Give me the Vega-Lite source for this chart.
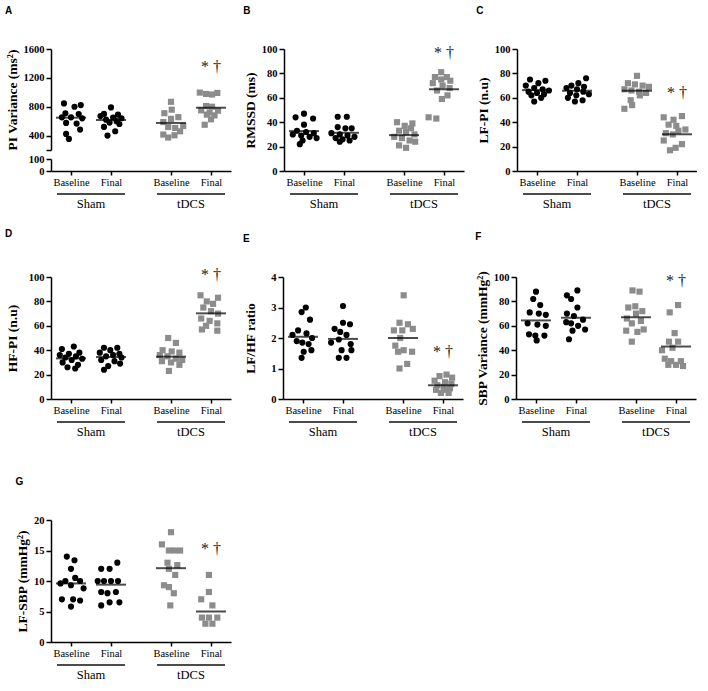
{
  "$schema": "https://vega.github.io/schema/vega-lite/v6.json",
  "background": "white",
  "padding": {"left": 5, "top": 6, "right": 0, "bottom": 0},
  "datasets": {
    "grp": [{"cat": "Sham"}, {"cat": "tDCS"}],
    "means": [
      {"p":"A","cat":"SB","v":648},{"p":"A","cat":"SF","v":616},{"p":"A","cat":"TB","v":575},{"p":"A","cat":"TF","v":786},
      {"p":"B","cat":"SB","v":32.7},{"p":"B","cat":"SF","v":31.3},{"p":"B","cat":"TB","v":29.4},{"p":"B","cat":"TF","v":67},
      {"p":"C","cat":"SB","v":66.3},{"p":"C","cat":"SF","v":65.8},{"p":"C","cat":"TB","v":65.8},{"p":"C","cat":"TF","v":30.1},
      {"p":"D","cat":"SB","v":33.3},{"p":"D","cat":"SF","v":34.4},{"p":"D","cat":"TB","v":34.7},{"p":"D","cat":"TF","v":70.2},
      {"p":"E","cat":"SB","v":2.04},{"p":"E","cat":"SF","v":1.97},{"p":"E","cat":"TB","v":2.0},{"p":"E","cat":"TF","v":0.45},
      {"p":"F","cat":"SB","v":64.4},{"p":"F","cat":"SF","v":66.6},{"p":"F","cat":"TB","v":67},{"p":"F","cat":"TF","v":43},
      {"p":"G","cat":"SB","v":9.6},{"p":"G","cat":"SF","v":9.4},{"p":"G","cat":"TB","v":12.1},{"p":"G","cat":"TF","v":5.0}
    ],
    "ann": [
      {"p":"A","cat":"TF","v":1355,"t":"* †"},
      {"p":"B","cat":"TF","v":96.7,"t":"* †"},
      {"p":"C","cat":"TF","v":64,"t":"* †"},
      {"p":"D","cat":"TF","v":102,"t":"* †"},
      {"p":"E","cat":"TF","v":1.55,"t":"* †"},
      {"p":"F","cat":"TF","v":97,"t":"* †"},
      {"p":"G","cat":"TF","v":15.3,"t":"* †"}
    ],
    "pts": [
      {"p":"A","cat":"SB","v":846,"j":-1},{"p":"A","cat":"SB","v":800,"j":0.5},{"p":"A","cat":"SB","v":823,"j":1.4},{"p":"A","cat":"SB","v":708,"j":-0.8},{"p":"A","cat":"SB","v":699,"j":1.1},{"p":"A","cat":"SB","v":653,"j":-1.3},{"p":"A","cat":"SB","v":653,"j":0},{"p":"A","cat":"SB","v":639,"j":1.6},{"p":"A","cat":"SB","v":575,"j":-0.7},{"p":"A","cat":"SB","v":566,"j":0.8},{"p":"A","cat":"SB","v":483,"j":1.3},{"p":"A","cat":"SB","v":423,"j":-0.7},{"p":"A","cat":"SB","v":354,"j":-0.3},
      {"p":"A","cat":"SF","v":790,"j":0},{"p":"A","cat":"SF","v":700,"j":-1},{"p":"A","cat":"SF","v":690,"j":1},{"p":"A","cat":"SF","v":670,"j":-1.5},{"p":"A","cat":"SF","v":650,"j":0.3},{"p":"A","cat":"SF","v":640,"j":1.5},{"p":"A","cat":"SF","v":620,"j":-0.7},{"p":"A","cat":"SF","v":600,"j":0.8},{"p":"A","cat":"SF","v":580,"j":-0.2},{"p":"A","cat":"SF","v":560,"j":1.2},{"p":"A","cat":"SF","v":520,"j":-1},{"p":"A","cat":"SF","v":460,"j":0.6},{"p":"A","cat":"SF","v":400,"j":-0.5},
      {"p":"A","cat":"TB","v":868,"j":0},{"p":"A","cat":"TB","v":710,"j":-0.95},{"p":"A","cat":"TB","v":759,"j":0.1},{"p":"A","cat":"TB","v":655,"j":1.05},{"p":"A","cat":"TB","v":632,"j":0},{"p":"A","cat":"TB","v":587,"j":-1.1},{"p":"A","cat":"TB","v":519,"j":-0.4},{"p":"A","cat":"TB","v":505,"j":0.6},{"p":"A","cat":"TB","v":532,"j":1.75},{"p":"A","cat":"TB","v":459,"j":1.3},{"p":"A","cat":"TB","v":414,"j":-1.1},{"p":"A","cat":"TB","v":373,"j":-0.4},{"p":"A","cat":"TB","v":404,"j":0.5},
      {"p":"A","cat":"TF","v":996,"j":-1.6},{"p":"A","cat":"TF","v":977,"j":-0.7},{"p":"A","cat":"TF","v":969,"j":0.15},{"p":"A","cat":"TF","v":991,"j":0.9},{"p":"A","cat":"TF","v":810,"j":-0.7},{"p":"A","cat":"TF","v":800,"j":0.15},{"p":"A","cat":"TF","v":750,"j":-1.4},{"p":"A","cat":"TF","v":745,"j":1.0},{"p":"A","cat":"TF","v":720,"j":-0.2},{"p":"A","cat":"TF","v":690,"j":-0.6},{"p":"A","cat":"TF","v":680,"j":0.5},{"p":"A","cat":"TF","v":625,"j":0},{"p":"A","cat":"TF","v":550,"j":-0.9},

      {"p":"B","cat":"SB","v":47,"j":0},{"p":"B","cat":"SB","v":44,"j":-1.2},{"p":"B","cat":"SB","v":43,"j":1.3},{"p":"B","cat":"SB","v":38,"j":0},{"p":"B","cat":"SB","v":33,"j":-1},{"p":"B","cat":"SB","v":32,"j":0.3},{"p":"B","cat":"SB","v":31,"j":1.4},{"p":"B","cat":"SB","v":30,"j":-1.6},{"p":"B","cat":"SB","v":29,"j":-0.4},{"p":"B","cat":"SB","v":28,"j":0.8},{"p":"B","cat":"SB","v":27,"j":1.8},{"p":"B","cat":"SB","v":25,"j":-0.2},{"p":"B","cat":"SB","v":22,"j":-0.6},
      {"p":"B","cat":"SF","v":44.5,"j":-0.9},{"p":"B","cat":"SF","v":44.5,"j":0.4},{"p":"B","cat":"SF","v":36,"j":-0.9},{"p":"B","cat":"SF","v":35,"j":0.2},{"p":"B","cat":"SF","v":35,"j":1.1},{"p":"B","cat":"SF","v":31,"j":-1.8},{"p":"B","cat":"SF","v":30,"j":-0.6},{"p":"B","cat":"SF","v":29,"j":0.5},{"p":"B","cat":"SF","v":28,"j":1.5},{"p":"B","cat":"SF","v":27,"j":-1.2},{"p":"B","cat":"SF","v":26,"j":-0.2},{"p":"B","cat":"SF","v":25,"j":0.8},{"p":"B","cat":"SF","v":24,"j":-0.6},
      {"p":"B","cat":"TB","v":40,"j":-1},{"p":"B","cat":"TB","v":39,"j":1.2},{"p":"B","cat":"TB","v":37,"j":0.1},{"p":"B","cat":"TB","v":35,"j":1},{"p":"B","cat":"TB","v":33,"j":-0.7},{"p":"B","cat":"TB","v":32,"j":0.3},{"p":"B","cat":"TB","v":30,"j":1.5},{"p":"B","cat":"TB","v":28,"j":-1.4},{"p":"B","cat":"TB","v":27,"j":-0.3},{"p":"B","cat":"TB","v":25,"j":0.8},{"p":"B","cat":"TB","v":24,"j":1.6},{"p":"B","cat":"TB","v":21,"j":-0.7},{"p":"B","cat":"TB","v":19,"j":0.3},
      {"p":"B","cat":"TF","v":81,"j":-0.4},{"p":"B","cat":"TF","v":77,"j":-1.3},{"p":"B","cat":"TF","v":77,"j":0.4},{"p":"B","cat":"TF","v":75,"j":-0.4},{"p":"B","cat":"TF","v":74,"j":0.9},{"p":"B","cat":"TF","v":72,"j":-1.6},{"p":"B","cat":"TF","v":70,"j":-0.2},{"p":"B","cat":"TF","v":68,"j":0.8},{"p":"B","cat":"TF","v":66,"j":-1},{"p":"B","cat":"TF","v":62,"j":0.5},{"p":"B","cat":"TF","v":59,"j":-0.3},{"p":"B","cat":"TF","v":44,"j":-2.2},{"p":"B","cat":"TF","v":43,"j":-1.1},

      {"p":"C","cat":"SB","v":75,"j":-1},{"p":"C","cat":"SB","v":74,"j":1.2},{"p":"C","cat":"SB","v":72,"j":0.2},{"p":"C","cat":"SB","v":70,"j":-1.6},{"p":"C","cat":"SB","v":68,"j":-0.4},{"p":"C","cat":"SB","v":67,"j":0.8},{"p":"C","cat":"SB","v":66,"j":1.7},{"p":"C","cat":"SB","v":65,"j":-1.2},{"p":"C","cat":"SB","v":64,"j":0},{"p":"C","cat":"SB","v":63,"j":1},{"p":"C","cat":"SB","v":62,"j":-0.8},{"p":"C","cat":"SB","v":60,"j":0.6},{"p":"C","cat":"SB","v":57,"j":-0.4},
      {"p":"C","cat":"SF","v":76,"j":1.3},{"p":"C","cat":"SF","v":72,"j":0.2},{"p":"C","cat":"SF","v":70,"j":-0.8},{"p":"C","cat":"SF","v":69,"j":1},{"p":"C","cat":"SF","v":68,"j":-1.5},{"p":"C","cat":"SF","v":67,"j":0},{"p":"C","cat":"SF","v":65,"j":0.9},{"p":"C","cat":"SF","v":64,"j":-1},{"p":"C","cat":"SF","v":63,"j":1.7},{"p":"C","cat":"SF","v":62,"j":-0.1},{"p":"C","cat":"SF","v":60,"j":-1.3},{"p":"C","cat":"SF","v":58,"j":0.8},{"p":"C","cat":"SF","v":57,"j":-0.3},
      {"p":"C","cat":"TB","v":78,"j":0},{"p":"C","cat":"TB","v":72,"j":-1.3},{"p":"C","cat":"TB","v":71,"j":-0.3},{"p":"C","cat":"TB","v":70,"j":0.8},{"p":"C","cat":"TB","v":69,"j":1.7},{"p":"C","cat":"TB","v":67,"j":-1.8},{"p":"C","cat":"TB","v":66,"j":-0.8},{"p":"C","cat":"TB","v":65,"j":0.3},{"p":"C","cat":"TB","v":64,"j":1.3},{"p":"C","cat":"TB","v":62,"j":0.4},{"p":"C","cat":"TB","v":58,"j":-0.9},{"p":"C","cat":"TB","v":54,"j":-0.7},{"p":"C","cat":"TB","v":51,"j":-1.8},
      {"p":"C","cat":"TF","v":45,"j":0.7},{"p":"C","cat":"TF","v":44,"j":-1.9},{"p":"C","cat":"TF","v":42,"j":-0.5},{"p":"C","cat":"TF","v":38,"j":-1.2},{"p":"C","cat":"TF","v":37,"j":-0.1},{"p":"C","cat":"TF","v":34,"j":1.2},{"p":"C","cat":"TF","v":33,"j":0.2},{"p":"C","cat":"TF","v":31,"j":-1.6},{"p":"C","cat":"TF","v":30,"j":-0.6},{"p":"C","cat":"TF","v":25,"j":-1.9},{"p":"C","cat":"TF","v":22,"j":0.7},{"p":"C","cat":"TF","v":19,"j":-0.2},{"p":"C","cat":"TF","v":17,"j":-1},

      {"p":"D","cat":"SB","v":43,"j":0.4},{"p":"D","cat":"SB","v":41,"j":-1.3},{"p":"D","cat":"SB","v":38,"j":1.2},{"p":"D","cat":"SB","v":37,"j":-0.3},{"p":"D","cat":"SB","v":36,"j":-1.6},{"p":"D","cat":"SB","v":35,"j":0.7},{"p":"D","cat":"SB","v":34,"j":-0.8},{"p":"D","cat":"SB","v":33,"j":1.6},{"p":"D","cat":"SB","v":32,"j":0.1},{"p":"D","cat":"SB","v":30,"j":-1.2},{"p":"D","cat":"SB","v":28,"j":1},{"p":"D","cat":"SB","v":26,"j":-0.5},{"p":"D","cat":"SB","v":25,"j":0.6},
      {"p":"D","cat":"SF","v":42,"j":-1},{"p":"D","cat":"SF","v":42,"j":0.9},{"p":"D","cat":"SF","v":40,"j":-0.1},{"p":"D","cat":"SF","v":38,"j":-1.6},{"p":"D","cat":"SF","v":37,"j":1.2},{"p":"D","cat":"SF","v":36,"j":0.3},{"p":"D","cat":"SF","v":35,"j":-0.7},{"p":"D","cat":"SF","v":34,"j":1.5},{"p":"D","cat":"SF","v":32,"j":-1.4},{"p":"D","cat":"SF","v":31,"j":0.5},{"p":"D","cat":"SF","v":29,"j":1.3},{"p":"D","cat":"SF","v":27,"j":-0.4},{"p":"D","cat":"SF","v":24,"j":-1},
      {"p":"D","cat":"TB","v":50,"j":-0.4},{"p":"D","cat":"TB","v":46,"j":0.7},{"p":"D","cat":"TB","v":40,"j":-1.2},{"p":"D","cat":"TB","v":39,"j":0.1},{"p":"D","cat":"TB","v":38,"j":1.2},{"p":"D","cat":"TB","v":36,"j":-1.6},{"p":"D","cat":"TB","v":35,"j":-0.5},{"p":"D","cat":"TB","v":33,"j":0.7},{"p":"D","cat":"TB","v":32,"j":1.6},{"p":"D","cat":"TB","v":31,"j":-1.3},{"p":"D","cat":"TB","v":30,"j":0},{"p":"D","cat":"TB","v":28,"j":1.2},{"p":"D","cat":"TB","v":23,"j":-0.3},
      {"p":"D","cat":"TF","v":85,"j":-1.5},{"p":"D","cat":"TF","v":83,"j":1},{"p":"D","cat":"TF","v":80,"j":-0.6},{"p":"D","cat":"TF","v":78,"j":0.3},{"p":"D","cat":"TF","v":75,"j":-1.1},{"p":"D","cat":"TF","v":72,"j":0},{"p":"D","cat":"TF","v":70,"j":1},{"p":"D","cat":"TF","v":66,"j":-1.4},{"p":"D","cat":"TF","v":64,"j":-0.2},{"p":"D","cat":"TF","v":62,"j":0.9},{"p":"D","cat":"TF","v":60,"j":-0.7},{"p":"D","cat":"TF","v":57,"j":-1.3},{"p":"D","cat":"TF","v":56,"j":0.9},

      {"p":"E","cat":"SB","v":3.0,"j":0.4},{"p":"E","cat":"SB","v":2.85,"j":-0.2},{"p":"E","cat":"SB","v":2.6,"j":1},{"p":"E","cat":"SB","v":2.25,"j":-0.7},{"p":"E","cat":"SB","v":2.15,"j":0.5},{"p":"E","cat":"SB","v":2.1,"j":-1.5},{"p":"E","cat":"SB","v":2.0,"j":1.3},{"p":"E","cat":"SB","v":1.9,"j":-0.9},{"p":"E","cat":"SB","v":1.85,"j":-0.1},{"p":"E","cat":"SB","v":1.8,"j":0.8},{"p":"E","cat":"SB","v":1.6,"j":1.2},{"p":"E","cat":"SB","v":1.55,"j":0.1},{"p":"E","cat":"SB","v":1.35,"j":-0.2},
      {"p":"E","cat":"SF","v":3.05,"j":0},{"p":"E","cat":"SF","v":2.5,"j":0},{"p":"E","cat":"SF","v":2.45,"j":1},{"p":"E","cat":"SF","v":2.3,"j":-1.2},{"p":"E","cat":"SF","v":2.2,"j":-0.4},{"p":"E","cat":"SF","v":2.1,"j":0.5},{"p":"E","cat":"SF","v":1.95,"j":-0.6},{"p":"E","cat":"SF","v":1.85,"j":-1.7},{"p":"E","cat":"SF","v":1.8,"j":1.1},{"p":"E","cat":"SF","v":1.6,"j":1.2},{"p":"E","cat":"SF","v":1.6,"j":-0.2},{"p":"E","cat":"SF","v":1.35,"j":-0.6},{"p":"E","cat":"SF","v":1.35,"j":0.5},
      {"p":"E","cat":"TB","v":3.4,"j":0.1},{"p":"E","cat":"TB","v":2.5,"j":-0.5},{"p":"E","cat":"TB","v":2.45,"j":0.7},{"p":"E","cat":"TB","v":2.3,"j":1.4},{"p":"E","cat":"TB","v":2.25,"j":-1.3},{"p":"E","cat":"TB","v":2.25,"j":-0.1},{"p":"E","cat":"TB","v":2.0,"j":-0.4},{"p":"E","cat":"TB","v":1.75,"j":-1.1},{"p":"E","cat":"TB","v":1.6,"j":0.1},{"p":"E","cat":"TB","v":1.55,"j":1.3},{"p":"E","cat":"TB","v":1.55,"j":-0.7},{"p":"E","cat":"TB","v":1.15,"j":0.6},{"p":"E","cat":"TB","v":1.0,"j":-0.5},
      {"p":"E","cat":"TF","v":0.8,"j":0.5},{"p":"E","cat":"TF","v":0.75,"j":-0.5},{"p":"E","cat":"TF","v":0.7,"j":1.3},{"p":"E","cat":"TF","v":0.6,"j":-1.2},{"p":"E","cat":"TF","v":0.55,"j":0.3},{"p":"E","cat":"TF","v":0.5,"j":1.2},{"p":"E","cat":"TF","v":0.45,"j":-0.8},{"p":"E","cat":"TF","v":0.4,"j":0.1},{"p":"E","cat":"TF","v":0.35,"j":1},{"p":"E","cat":"TF","v":0.3,"j":-1},{"p":"E","cat":"TF","v":0.3,"j":0.4},{"p":"E","cat":"TF","v":0.2,"j":-0.3},{"p":"E","cat":"TF","v":0.2,"j":0.8},

      {"p":"F","cat":"SB","v":88,"j":0},{"p":"F","cat":"SB","v":82,"j":-0.4},{"p":"F","cat":"SB","v":77,"j":0.6},{"p":"F","cat":"SB","v":71,"j":-0.9},{"p":"F","cat":"SB","v":70,"j":0.4},{"p":"F","cat":"SB","v":69,"j":1.4},{"p":"F","cat":"SB","v":62,"j":-1.2},{"p":"F","cat":"SB","v":61,"j":0.2},{"p":"F","cat":"SB","v":60,"j":1.4},{"p":"F","cat":"SB","v":53,"j":-1},{"p":"F","cat":"SB","v":52,"j":-0.1},{"p":"F","cat":"SB","v":52,"j":1.2},{"p":"F","cat":"SB","v":48,"j":0.1},
      {"p":"F","cat":"SF","v":89,"j":0.2},{"p":"F","cat":"SF","v":85,"j":-1.3},{"p":"F","cat":"SF","v":82,"j":-0.7},{"p":"F","cat":"SF","v":75,"j":0.2},{"p":"F","cat":"SF","v":70,"j":-1.3},{"p":"F","cat":"SF","v":68,"j":-0.3},{"p":"F","cat":"SF","v":65,"j":1},{"p":"F","cat":"SF","v":63,"j":-1.4},{"p":"F","cat":"SF","v":62,"j":-0.7},{"p":"F","cat":"SF","v":60,"j":0.3},{"p":"F","cat":"SF","v":57,"j":1.3},{"p":"F","cat":"SF","v":56,"j":-0.5},{"p":"F","cat":"SF","v":49,"j":-1},
      {"p":"F","cat":"TB","v":89,"j":-0.5},{"p":"F","cat":"TB","v":88,"j":0.5},{"p":"F","cat":"TB","v":76,"j":-0.1},{"p":"F","cat":"TB","v":75,"j":-1.1},{"p":"F","cat":"TB","v":72,"j":0.9},{"p":"F","cat":"TB","v":70,"j":0},{"p":"F","cat":"TB","v":66,"j":-1.3},{"p":"F","cat":"TB","v":64,"j":0.7},{"p":"F","cat":"TB","v":62,"j":-0.6},{"p":"F","cat":"TB","v":57,"j":1.1},{"p":"F","cat":"TB","v":56,"j":-1.4},{"p":"F","cat":"TB","v":55,"j":0.2},{"p":"F","cat":"TB","v":47,"j":-0.6},
      {"p":"F","cat":"TF","v":77,"j":0.3},{"p":"F","cat":"TF","v":71,"j":-0.9},{"p":"F","cat":"TF","v":54,"j":-0.2},{"p":"F","cat":"TF","v":47,"j":-1},{"p":"F","cat":"TF","v":47,"j":0.3},{"p":"F","cat":"TF","v":42,"j":-0.5},{"p":"F","cat":"TF","v":40,"j":-2},{"p":"F","cat":"TF","v":33,"j":-1.6},{"p":"F","cat":"TF","v":31,"j":-0.7},{"p":"F","cat":"TF","v":31,"j":0.7},{"p":"F","cat":"TF","v":28,"j":-1.1},{"p":"F","cat":"TF","v":28,"j":0},{"p":"F","cat":"TF","v":27,"j":1},

      {"p":"G","cat":"SB","v":14,"j":-0.6},{"p":"G","cat":"SB","v":13.4,"j":0.5},{"p":"G","cat":"SB","v":12,"j":0},{"p":"G","cat":"SB","v":10.5,"j":0.6},{"p":"G","cat":"SB","v":10,"j":-0.8},{"p":"G","cat":"SB","v":10,"j":1.3},{"p":"G","cat":"SB","v":9.6,"j":-1.5},{"p":"G","cat":"SB","v":9.3,"j":0},{"p":"G","cat":"SB","v":8.8,"j":1.8},{"p":"G","cat":"SB","v":7,"j":-1.3},{"p":"G","cat":"SB","v":7,"j":0.3},{"p":"G","cat":"SB","v":6.8,"j":1.3},{"p":"G","cat":"SB","v":5.8,"j":0},
      {"p":"G","cat":"SF","v":13,"j":0.9},{"p":"G","cat":"SF","v":12,"j":-1.4},{"p":"G","cat":"SF","v":12,"j":-0.2},{"p":"G","cat":"SF","v":10,"j":-1.9},{"p":"G","cat":"SF","v":10,"j":-1},{"p":"G","cat":"SF","v":10,"j":0},{"p":"G","cat":"SF","v":10,"j":1},{"p":"G","cat":"SF","v":8.2,"j":-1.4},{"p":"G","cat":"SF","v":8.2,"j":0.7},{"p":"G","cat":"SF","v":8,"j":-0.5},{"p":"G","cat":"SF","v":6.5,"j":-0.2},{"p":"G","cat":"SF","v":6.5,"j":1.2},{"p":"G","cat":"SF","v":6,"j":-1.4},
      {"p":"G","cat":"TB","v":18,"j":0},{"p":"G","cat":"TB","v":16,"j":-1.3},{"p":"G","cat":"TB","v":15,"j":-0.3},{"p":"G","cat":"TB","v":15,"j":0.5},{"p":"G","cat":"TB","v":15,"j":1.3},{"p":"G","cat":"TB","v":13,"j":-0.5},{"p":"G","cat":"TB","v":12.6,"j":0.9},{"p":"G","cat":"TB","v":12,"j":-0.3},{"p":"G","cat":"TB","v":11,"j":0.6},{"p":"G","cat":"TB","v":9.3,"j":-1},{"p":"G","cat":"TB","v":9,"j":-0.3},{"p":"G","cat":"TB","v":8,"j":0.4},{"p":"G","cat":"TB","v":6,"j":-0.1},
      {"p":"G","cat":"TF","v":11,"j":-0.3},{"p":"G","cat":"TF","v":8.2,"j":-0.3},{"p":"G","cat":"TF","v":7,"j":-1.4},{"p":"G","cat":"TF","v":6,"j":0.2},{"p":"G","cat":"TF","v":4,"j":-1.3},{"p":"G","cat":"TF","v":4,"j":-0.3},{"p":"G","cat":"TF","v":4,"j":0.9},{"p":"G","cat":"TF","v":3,"j":-0.8},{"p":"G","cat":"TF","v":3,"j":0.2}
    ]
  },
  "vconcat": [
    {
      "spacing": 17,
      "vconcat": [
        {
          "spacing": 12,
          "hconcat": [
            {
              "title": {"text": "A"},
              "width": 180, "height": 122,
              "layer": [
                {
                  "layer": [
                    {"data": {"name": "pts"}, "transform": [{"filter": "datum.p === 'A'"}],
                     "mark": {"type": "point", "filled": true, "opacity": 1, "size": 38, "strokeWidth": 0},
                     "encoding": {
                       "x": {"field": "cat", "type": "nominal", "scale": {"type": "point", "domain": ["SB","Sham","SF","g1","g2","TB","tDCS","TF"], "padding": 1.3}, "axis": {"values": ["SB","SF","TB","TF"], "labelExpr": "datum.value == 'SB' || datum.value == 'TB' ? 'Baseline' : 'Final'", "title": null}},
                       "xOffset": {"field": "j", "type": "quantitative", "scale": {"domain": [-2, 2], "range": [-14, 14]}},
                       "y": {"field": "v", "type": "quantitative", "scale": {"domain": [200, 1600], "range": [101, 0], "nice": false}, "axis": {"orient": "left", "values": [200, 400, 800, 1200, 1600], "tickCount": 20, "format": "d", "labelExpr": "datum.value == 200 ? '' : datum.label", "title": "PI Variance (ms²)"}},
                       "color": {"field": "cat", "type": "nominal", "scale": {"domain": ["SB","SF","TB","TF"], "range": ["#000000","#000000","#8c8c8c","#8c8c8c"]}, "legend": null},
                       "shape": {"field": "cat", "type": "nominal", "scale": {"domain": ["SB","SF","TB","TF"], "range": ["circle","circle","square","square"]}, "legend": null}
                     }},
                    {"data": {"name": "means"}, "transform": [{"filter": "datum.p === 'A'"}],
                     "mark": {"type": "tick", "orient": "horizontal", "size": 30, "thickness": 2, "color": "#000000"},
                     "encoding": {"x": {"field": "cat", "type": "nominal"}, "y": {"field": "v", "type": "quantitative"}}},
                    {"data": {"name": "ann"}, "transform": [{"filter": "datum.p === 'A'"}],
                     "mark": {"type": "text", "font": "Liberation Serif", "fontSize": 16, "baseline": "middle"},
                     "encoding": {"x": {"field": "cat", "type": "nominal"}, "y": {"field": "v", "type": "quantitative"}, "text": {"field": "t"}, "color": {"value": "#222222"}}}
                  ]
                },
                {
                  "layer": [
                    {"data": {"name": "grp"},
                     "mark": {"type": "tick", "orient": "horizontal", "size": 68, "thickness": 2, "color": "#000000"},
                     "encoding": {"x": {"field": "cat", "type": "nominal"}, "y": {"datum": -192, "type": "quantitative", "scale": {"domain": [0, 100], "range": [122, 110], "nice": false}, "axis": {"orient": "left", "values": [0, 100], "tickCount": 20, "format": "d", "title": null}}}},
                    {"data": {"name": "grp"},
                     "mark": {"type": "text", "font": "Liberation Serif", "fontSize": 12.5, "baseline": "middle"},
                     "encoding": {"x": {"field": "cat", "type": "nominal"}, "y": {"datum": -275, "type": "quantitative"}, "text": {"field": "cat"}, "color": {"value": "#000000"}}}
                  ]
                }
              ],
              "resolve": {"scale": {"y": "independent"}}
            },
            {
              "title": {"text": "B"},
              "width": 180, "height": 122,
              "layer": [
                {"data": {"name": "pts"}, "transform": [{"filter": "datum.p === 'B'"}],
                 "mark": {"type": "point", "filled": true, "opacity": 1, "size": 38, "strokeWidth": 0},
                 "encoding": {
                   "x": {"field": "cat", "type": "nominal", "scale": {"type": "point", "domain": ["SB","Sham","SF","g1","g2","TB","tDCS","TF"], "padding": 1.3}, "axis": {"values": ["SB","SF","TB","TF"], "labelExpr": "datum.value == 'SB' || datum.value == 'TB' ? 'Baseline' : 'Final'", "title": null}},
                   "xOffset": {"field": "j", "type": "quantitative", "scale": {"domain": [-2, 2], "range": [-14, 14]}},
                   "y": {"field": "v", "type": "quantitative", "scale": {"domain": [0, 100], "nice": false}, "axis": {"values": [0, 20, 40, 60, 80, 100], "tickCount": 20, "format": "d", "title": "RMSSD (ms)"}},
                   "color": {"field": "cat", "type": "nominal", "scale": {"domain": ["SB","SF","TB","TF"], "range": ["#000000","#000000","#8c8c8c","#8c8c8c"]}, "legend": null},
                   "shape": {"field": "cat", "type": "nominal", "scale": {"domain": ["SB","SF","TB","TF"], "range": ["circle","circle","square","square"]}, "legend": null}
                 }},
                {"data": {"name": "means"}, "transform": [{"filter": "datum.p === 'B'"}],
                 "mark": {"type": "tick", "orient": "horizontal", "size": 30, "thickness": 2, "color": "#000000"},
                 "encoding": {"x": {"field": "cat", "type": "nominal"}, "y": {"field": "v", "type": "quantitative"}}},
                {"data": {"name": "ann"}, "transform": [{"filter": "datum.p === 'B'"}],
                 "mark": {"type": "text", "font": "Liberation Serif", "fontSize": 16, "baseline": "middle"},
                 "encoding": {"x": {"field": "cat", "type": "nominal"}, "y": {"field": "v", "type": "quantitative"}, "text": {"field": "t"}, "color": {"value": "#222222"}}},
                {"data": {"name": "grp"},
                 "mark": {"type": "tick", "orient": "horizontal", "size": 68, "thickness": 2, "color": "#000000"},
                 "encoding": {"x": {"field": "cat", "type": "nominal"}, "y": {"datum": -18.9, "type": "quantitative"}}},
                {"data": {"name": "grp"},
                 "mark": {"type": "text", "font": "Liberation Serif", "fontSize": 12.5, "baseline": "middle"},
                 "encoding": {"x": {"field": "cat", "type": "nominal"}, "y": {"datum": -27, "type": "quantitative"}, "text": {"field": "cat"}, "color": {"value": "#000000"}}}
              ]
            },
            {
              "title": {"text": "C"},
              "width": 180, "height": 122,
              "layer": [
                {"data": {"name": "pts"}, "transform": [{"filter": "datum.p === 'C'"}],
                 "mark": {"type": "point", "filled": true, "opacity": 1, "size": 38, "strokeWidth": 0},
                 "encoding": {
                   "x": {"field": "cat", "type": "nominal", "scale": {"type": "point", "domain": ["SB","Sham","SF","g1","g2","TB","tDCS","TF"], "padding": 1.3}, "axis": {"values": ["SB","SF","TB","TF"], "labelExpr": "datum.value == 'SB' || datum.value == 'TB' ? 'Baseline' : 'Final'", "title": null}},
                   "xOffset": {"field": "j", "type": "quantitative", "scale": {"domain": [-2, 2], "range": [-14, 14]}},
                   "y": {"field": "v", "type": "quantitative", "scale": {"domain": [0, 100], "nice": false}, "axis": {"values": [0, 20, 40, 60, 80, 100], "tickCount": 20, "format": "d", "title": "LF-PI (n.u)"}},
                   "color": {"field": "cat", "type": "nominal", "scale": {"domain": ["SB","SF","TB","TF"], "range": ["#000000","#000000","#8c8c8c","#8c8c8c"]}, "legend": null},
                   "shape": {"field": "cat", "type": "nominal", "scale": {"domain": ["SB","SF","TB","TF"], "range": ["circle","circle","square","square"]}, "legend": null}
                 }},
                {"data": {"name": "means"}, "transform": [{"filter": "datum.p === 'C'"}],
                 "mark": {"type": "tick", "orient": "horizontal", "size": 30, "thickness": 2, "color": "#000000"},
                 "encoding": {"x": {"field": "cat", "type": "nominal"}, "y": {"field": "v", "type": "quantitative"}}},
                {"data": {"name": "ann"}, "transform": [{"filter": "datum.p === 'C'"}],
                 "mark": {"type": "text", "font": "Liberation Serif", "fontSize": 16, "baseline": "middle"},
                 "encoding": {"x": {"field": "cat", "type": "nominal"}, "y": {"field": "v", "type": "quantitative"}, "text": {"field": "t"}, "color": {"value": "#222222"}}},
                {"data": {"name": "grp"},
                 "mark": {"type": "tick", "orient": "horizontal", "size": 68, "thickness": 2, "color": "#000000"},
                 "encoding": {"x": {"field": "cat", "type": "nominal"}, "y": {"datum": -18.9, "type": "quantitative"}}},
                {"data": {"name": "grp"},
                 "mark": {"type": "text", "font": "Liberation Serif", "fontSize": 12.5, "baseline": "middle"},
                 "encoding": {"x": {"field": "cat", "type": "nominal"}, "y": {"datum": -27, "type": "quantitative"}, "text": {"field": "cat"}, "color": {"value": "#000000"}}}
              ]
            }
          ]
        },
        {
          "spacing": 12,
          "hconcat": [
            {
              "title": {"text": "D"},
              "width": 180, "height": 122,
              "layer": [
                {"data": {"name": "pts"}, "transform": [{"filter": "datum.p === 'D'"}],
                 "mark": {"type": "point", "filled": true, "opacity": 1, "size": 38, "strokeWidth": 0},
                 "encoding": {
                   "x": {"field": "cat", "type": "nominal", "scale": {"type": "point", "domain": ["SB","Sham","SF","g1","g2","TB","tDCS","TF"], "padding": 1.3}, "axis": {"values": ["SB","SF","TB","TF"], "labelExpr": "datum.value == 'SB' || datum.value == 'TB' ? 'Baseline' : 'Final'", "title": null}},
                   "xOffset": {"field": "j", "type": "quantitative", "scale": {"domain": [-2, 2], "range": [-14, 14]}},
                   "y": {"field": "v", "type": "quantitative", "scale": {"domain": [0, 100], "nice": false}, "axis": {"values": [0, 20, 40, 60, 80, 100], "tickCount": 20, "format": "d", "title": "HF-PI (n.u)", "minExtent": 28}},
                   "color": {"field": "cat", "type": "nominal", "scale": {"domain": ["SB","SF","TB","TF"], "range": ["#000000","#000000","#8c8c8c","#8c8c8c"]}, "legend": null},
                   "shape": {"field": "cat", "type": "nominal", "scale": {"domain": ["SB","SF","TB","TF"], "range": ["circle","circle","square","square"]}, "legend": null}
                 }},
                {"data": {"name": "means"}, "transform": [{"filter": "datum.p === 'D'"}],
                 "mark": {"type": "tick", "orient": "horizontal", "size": 30, "thickness": 2, "color": "#000000"},
                 "encoding": {"x": {"field": "cat", "type": "nominal"}, "y": {"field": "v", "type": "quantitative"}}},
                {"data": {"name": "ann"}, "transform": [{"filter": "datum.p === 'D'"}],
                 "mark": {"type": "text", "font": "Liberation Serif", "fontSize": 16, "baseline": "middle"},
                 "encoding": {"x": {"field": "cat", "type": "nominal"}, "y": {"field": "v", "type": "quantitative"}, "text": {"field": "t"}, "color": {"value": "#222222"}}},
                {"data": {"name": "grp"},
                 "mark": {"type": "tick", "orient": "horizontal", "size": 68, "thickness": 2, "color": "#000000"},
                 "encoding": {"x": {"field": "cat", "type": "nominal"}, "y": {"datum": -18.9, "type": "quantitative"}}},
                {"data": {"name": "grp"},
                 "mark": {"type": "text", "font": "Liberation Serif", "fontSize": 12.5, "baseline": "middle"},
                 "encoding": {"x": {"field": "cat", "type": "nominal"}, "y": {"datum": -27, "type": "quantitative"}, "text": {"field": "cat"}, "color": {"value": "#000000"}}}
              ]
            },
            {
              "title": {"text": "E"},
              "width": 180, "height": 122,
              "layer": [
                {"data": {"name": "pts"}, "transform": [{"filter": "datum.p === 'E'"}],
                 "mark": {"type": "point", "filled": true, "opacity": 1, "size": 38, "strokeWidth": 0},
                 "encoding": {
                   "x": {"field": "cat", "type": "nominal", "scale": {"type": "point", "domain": ["SB","Sham","SF","g1","g2","TB","tDCS","TF"], "padding": 1.3}, "axis": {"values": ["SB","SF","TB","TF"], "labelExpr": "datum.value == 'SB' || datum.value == 'TB' ? 'Baseline' : 'Final'", "title": null}},
                   "xOffset": {"field": "j", "type": "quantitative", "scale": {"domain": [-2, 2], "range": [-14, 14]}},
                   "y": {"field": "v", "type": "quantitative", "scale": {"domain": [0, 4], "nice": false}, "axis": {"values": [0, 1, 2, 3, 4], "tickCount": 20, "format": "d", "title": "LF/HF ratio", "minExtent": 22}},
                   "color": {"field": "cat", "type": "nominal", "scale": {"domain": ["SB","SF","TB","TF"], "range": ["#000000","#000000","#8c8c8c","#8c8c8c"]}, "legend": null},
                   "shape": {"field": "cat", "type": "nominal", "scale": {"domain": ["SB","SF","TB","TF"], "range": ["circle","circle","square","square"]}, "legend": null}
                 }},
                {"data": {"name": "means"}, "transform": [{"filter": "datum.p === 'E'"}],
                 "mark": {"type": "tick", "orient": "horizontal", "size": 30, "thickness": 2, "color": "#000000"},
                 "encoding": {"x": {"field": "cat", "type": "nominal"}, "y": {"field": "v", "type": "quantitative"}}},
                {"data": {"name": "ann"}, "transform": [{"filter": "datum.p === 'E'"}],
                 "mark": {"type": "text", "font": "Liberation Serif", "fontSize": 16, "baseline": "middle"},
                 "encoding": {"x": {"field": "cat", "type": "nominal"}, "y": {"field": "v", "type": "quantitative"}, "text": {"field": "t"}, "color": {"value": "#222222"}}},
                {"data": {"name": "grp"},
                 "mark": {"type": "tick", "orient": "horizontal", "size": 68, "thickness": 2, "color": "#000000"},
                 "encoding": {"x": {"field": "cat", "type": "nominal"}, "y": {"datum": -0.754, "type": "quantitative"}}},
                {"data": {"name": "grp"},
                 "mark": {"type": "text", "font": "Liberation Serif", "fontSize": 12.5, "baseline": "middle"},
                 "encoding": {"x": {"field": "cat", "type": "nominal"}, "y": {"datum": -1.082, "type": "quantitative"}, "text": {"field": "cat"}, "color": {"value": "#000000"}}}
              ]
            },
            {
              "title": {"text": "F"},
              "width": 180, "height": 122,
              "layer": [
                {"data": {"name": "pts"}, "transform": [{"filter": "datum.p === 'F'"}],
                 "mark": {"type": "point", "filled": true, "opacity": 1, "size": 38, "strokeWidth": 0},
                 "encoding": {
                   "x": {"field": "cat", "type": "nominal", "scale": {"type": "point", "domain": ["SB","Sham","SF","g1","g2","TB","tDCS","TF"], "padding": 1.3}, "axis": {"values": ["SB","SF","TB","TF"], "labelExpr": "datum.value == 'SB' || datum.value == 'TB' ? 'Baseline' : 'Final'", "title": null}},
                   "xOffset": {"field": "j", "type": "quantitative", "scale": {"domain": [-2, 2], "range": [-14, 14]}},
                   "y": {"field": "v", "type": "quantitative", "scale": {"domain": [0, 100], "nice": false}, "axis": {"values": [0, 20, 40, 60, 80, 100], "tickCount": 20, "format": "d", "title": "SBP Variance (mmHg²)"}},
                   "color": {"field": "cat", "type": "nominal", "scale": {"domain": ["SB","SF","TB","TF"], "range": ["#000000","#000000","#8c8c8c","#8c8c8c"]}, "legend": null},
                   "shape": {"field": "cat", "type": "nominal", "scale": {"domain": ["SB","SF","TB","TF"], "range": ["circle","circle","square","square"]}, "legend": null}
                 }},
                {"data": {"name": "means"}, "transform": [{"filter": "datum.p === 'F'"}],
                 "mark": {"type": "tick", "orient": "horizontal", "size": 30, "thickness": 2, "color": "#000000"},
                 "encoding": {"x": {"field": "cat", "type": "nominal"}, "y": {"field": "v", "type": "quantitative"}}},
                {"data": {"name": "ann"}, "transform": [{"filter": "datum.p === 'F'"}],
                 "mark": {"type": "text", "font": "Liberation Serif", "fontSize": 16, "baseline": "middle"},
                 "encoding": {"x": {"field": "cat", "type": "nominal"}, "y": {"field": "v", "type": "quantitative"}, "text": {"field": "t"}, "color": {"value": "#222222"}}},
                {"data": {"name": "grp"},
                 "mark": {"type": "tick", "orient": "horizontal", "size": 68, "thickness": 2, "color": "#000000"},
                 "encoding": {"x": {"field": "cat", "type": "nominal"}, "y": {"datum": -18.9, "type": "quantitative"}}},
                {"data": {"name": "grp"},
                 "mark": {"type": "text", "font": "Liberation Serif", "fontSize": 12.5, "baseline": "middle"},
                 "encoding": {"x": {"field": "cat", "type": "nominal"}, "y": {"datum": -27, "type": "quantitative"}, "text": {"field": "cat"}, "color": {"value": "#000000"}}}
              ]
            }
          ]
        }
      ]
    },
    {
      "title": {"text": "G"},
      "width": 180, "height": 122,
      "layer": [
        {"data": {"name": "pts"}, "transform": [{"filter": "datum.p === 'G'"}],
         "mark": {"type": "point", "filled": true, "opacity": 1, "size": 38, "strokeWidth": 0},
         "encoding": {
           "x": {"field": "cat", "type": "nominal", "scale": {"type": "point", "domain": ["SB","Sham","SF","g1","g2","TB","tDCS","TF"], "padding": 1.3}, "axis": {"values": ["SB","SF","TB","TF"], "labelExpr": "datum.value == 'SB' || datum.value == 'TB' ? 'Baseline' : 'Final'", "title": null}},
           "xOffset": {"field": "j", "type": "quantitative", "scale": {"domain": [-2, 2], "range": [-14, 14]}},
           "y": {"field": "v", "type": "quantitative", "scale": {"domain": [0, 20], "nice": false}, "axis": {"values": [0, 5, 10, 15, 20], "tickCount": 20, "format": "d", "title": "LF-SBP (mmHg²)"}},
           "color": {"field": "cat", "type": "nominal", "scale": {"domain": ["SB","SF","TB","TF"], "range": ["#000000","#000000","#8c8c8c","#8c8c8c"]}, "legend": null},
           "shape": {"field": "cat", "type": "nominal", "scale": {"domain": ["SB","SF","TB","TF"], "range": ["circle","circle","square","square"]}, "legend": null}
         }},
        {"data": {"name": "means"}, "transform": [{"filter": "datum.p === 'G'"}],
         "mark": {"type": "tick", "orient": "horizontal", "size": 30, "thickness": 2, "color": "#000000"},
         "encoding": {"x": {"field": "cat", "type": "nominal"}, "y": {"field": "v", "type": "quantitative"}}},
        {"data": {"name": "ann"}, "transform": [{"filter": "datum.p === 'G'"}],
         "mark": {"type": "text", "font": "Liberation Serif", "fontSize": 16, "baseline": "middle"},
         "encoding": {"x": {"field": "cat", "type": "nominal"}, "y": {"field": "v", "type": "quantitative"}, "text": {"field": "t"}, "color": {"value": "#222222"}}},
        {"data": {"name": "grp"},
         "mark": {"type": "tick", "orient": "horizontal", "size": 68, "thickness": 2, "color": "#000000"},
         "encoding": {"x": {"field": "cat", "type": "nominal"}, "y": {"datum": -3.77, "type": "quantitative"}}},
        {"data": {"name": "grp"},
         "mark": {"type": "text", "font": "Liberation Serif", "fontSize": 12.5, "baseline": "middle"},
         "encoding": {"x": {"field": "cat", "type": "nominal"}, "y": {"datum": -5.41, "type": "quantitative"}, "text": {"field": "cat"}, "color": {"value": "#000000"}}}
      ]
    }
  ],
  "spacing": 38,
  "config": {
    "font": "Liberation Serif",
    "view": {"stroke": null},
    "axis": {"grid": false, "domainColor": "#000000", "tickColor": "#000000", "domainWidth": 1.5, "tickWidth": 1.5, "labelColor": "#000000", "titleColor": "#000000", "labelFont": "Liberation Serif", "titleFont": "Liberation Serif", "labelOverlap": false, "labelFlush": false},
    "axisY": {"labelFontWeight": "bold", "labelFontSize": 10.5, "titleFontWeight": "bold", "titleFontSize": 13.5, "tickSize": 5, "labelPadding": 2, "titlePadding": 4, "tickCount": 20},
    "axisX": {"labelFontSize": 10.5, "labelFontWeight": "normal", "labelAngle": 0, "tickSize": 4, "labelPadding": 2},
    "title": {"anchor": "start", "frame": "bounds", "font": "Liberation Sans", "fontSize": 10, "fontWeight": "bold", "color": "#000000", "offset": 28}
  }
}
